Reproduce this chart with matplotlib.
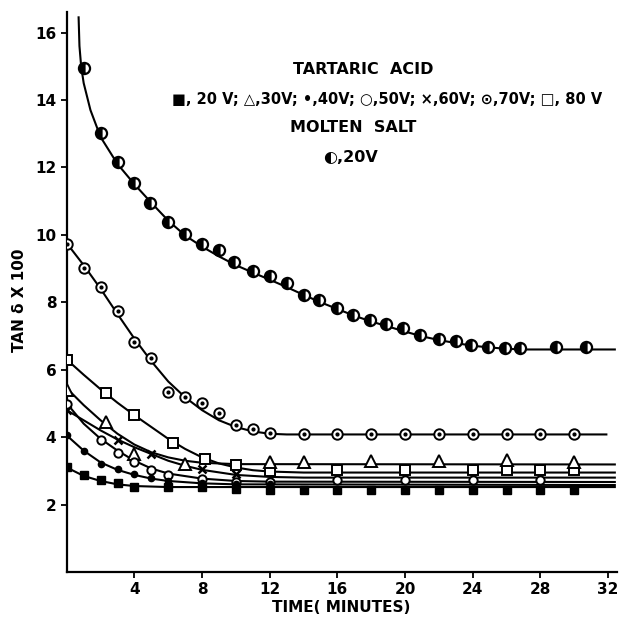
import matplotlib
matplotlib.use("Agg")
import matplotlib.pyplot as plt

# ---- measured points (time in minutes, tan delta x 100) ----
# molten salt, 20 V
t_ms = [1, 2, 3, 4, 4.9, 6, 7, 8, 9, 9.9, 11, 12, 13, 14, 14.9, 16, 16.9, 17.9,
        18.9, 19.9, 20.9, 22, 23, 23.9, 24.9, 25.9, 26.8, 28.9, 30.7]
d_ms = [14.95, 13.02, 12.16, 11.53, 10.94, 10.38, 10.01, 9.72, 9.54, 9.18, 8.93,
        8.78, 8.57, 8.21, 8.08, 7.84, 7.61, 7.47, 7.37, 7.24, 7.02, 6.92, 6.84,
        6.73, 6.66, 6.63, 6.63, 6.66, 6.66]

# tartaric acid
t_20 = [0, 1, 2, 3, 4, 6, 8, 10, 12, 14, 16, 18, 20, 22, 24, 26, 28, 30]
d_20 = [3.1, 2.89, 2.73, 2.63, 2.53, 2.53, 2.51, 2.45, 2.43, 2.42, 2.42, 2.42,
        2.42, 2.42, 2.42, 2.42, 2.42, 2.42]
t_30 = [0, 2.3, 4, 7, 12, 14, 18, 22, 26, 30]
d_30 = [5.4, 4.45, 3.5, 3.2, 3.27, 3.27, 3.3, 3.3, 3.32, 3.27]
t_40 = [0, 1, 2, 3, 4, 5, 6, 8, 10, 12]
d_40 = [4.05, 3.58, 3.2, 3.05, 2.9, 2.78, 2.7, 2.65, 2.62, 2.62]
t_50 = [0, 2, 3, 4, 5, 6, 8, 10, 12, 16, 20, 24, 28]
d_50 = [4.98, 3.91, 3.54, 3.27, 3.02, 2.89, 2.76, 2.68, 2.66, 2.73, 2.73, 2.73, 2.73]
t_60 = [0, 3, 5, 8, 10]
d_60 = [4.8, 3.92, 3.5, 3.05, 2.92]
t_70 = [0, 1, 2, 3, 4, 5, 6, 7, 8, 9, 10, 11, 12, 14, 16, 18, 20, 22, 24, 26, 28, 30]
d_70 = [9.74, 9.03, 8.45, 7.74, 6.82, 6.36, 5.34, 5.19, 5.0, 4.72, 4.36, 4.23,
        4.11, 4.08, 4.08, 4.08, 4.08, 4.08, 4.08, 4.08, 4.08, 4.08]
t_80 = [0, 2.3, 4, 6.3, 8.2, 10, 12, 16, 20, 24, 26, 28, 30]
d_80 = [6.3, 5.31, 4.65, 3.82, 3.34, 3.17, 3.0, 3.02, 3.02, 3.02, 3.02, 3.02, 3.02]

# ---- hand-drawn fitted curves ----
ct_ms = [0.7, 0.75, 0.85, 1, 1.4, 2, 3, 4, 5, 6, 7, 8, 9, 10, 11, 12, 13, 14, 15,
         16, 17, 18, 19, 20, 21, 22, 23, 24, 25, 26, 27, 32.4]
cd_ms = [16.45, 15.6, 15.0, 14.5, 13.7, 12.9, 12.1, 11.5, 10.95, 10.42, 9.98,
         9.65, 9.36, 9.1, 8.88, 8.67, 8.45, 8.22, 8.0, 7.8, 7.6, 7.43, 7.28, 7.13,
         6.99, 6.88, 6.79, 6.71, 6.66, 6.62, 6.6, 6.6]
ct_70 = [0, 1, 2, 3, 4, 5, 6, 7, 8, 9, 10, 11, 12, 13, 31.9]
cd_70 = [9.75, 9.1, 8.4, 7.65, 6.92, 6.25, 5.65, 5.18, 4.8, 4.5, 4.3, 4.17, 4.1,
         4.08, 4.08]
ct_80 = [0, 1, 2, 3, 4, 5, 6, 7, 8, 9, 10, 11, 12, 14, 32.4]
cd_80 = [6.3, 5.85, 5.42, 5.02, 4.65, 4.3, 3.95, 3.65, 3.4, 3.22, 3.1, 3.02,
         2.98, 2.95, 2.95]
ct_30 = [0, 1, 2, 3, 4, 5, 6, 7, 8, 10, 32.4]
cd_30 = [5.45, 4.95, 4.5, 4.1, 3.78, 3.55, 3.4, 3.3, 3.24, 3.2, 3.19]
ct_60 = [0, 1, 2, 3, 4, 5, 6, 7, 8, 10, 12, 14, 32.4]
cd_60 = [4.8, 4.5, 4.2, 3.93, 3.7, 3.5, 3.3, 3.15, 3.03, 2.88, 2.82, 2.8, 2.8]
ct_50 = [0, 1, 2, 3, 4, 5, 6, 8, 10, 12, 32.4]
cd_50 = [5.0, 4.4, 3.95, 3.6, 3.3, 3.07, 2.92, 2.77, 2.7, 2.68, 2.67]
ct_40 = [0, 1, 2, 3, 4, 5, 6, 8, 10, 32.4]
cd_40 = [4.05, 3.6, 3.25, 3.03, 2.88, 2.77, 2.7, 2.63, 2.6, 2.58]
ct_20 = [0, 1, 2, 3, 4, 6, 32.4]
cd_20 = [3.1, 2.85, 2.7, 2.6, 2.55, 2.52, 2.52]

x_ticks = [4, 8, 12, 16, 20, 24, 28, 32]
y_ticks = [2, 4, 6, 8, 10, 12, 14, 16]

plt.rcParams['font.family'] = ['DejaVu Sans']

fig = plt.figure(figsize=(6.24, 6.24), dpi=100)
ax = fig.add_axes([0.107, 0.0833, 0.881, 0.897])

# curves
for ct, cd in [(ct_ms, cd_ms), (ct_70, cd_70), (ct_80, cd_80), (ct_30, cd_30),
               (ct_60, cd_60), (ct_50, cd_50), (ct_40, cd_40), (ct_20, cd_20)]:
    ax.plot(ct, cd, color='black', lw=1.5, zorder=2)

# markers
ax.plot(t_ms, d_ms, 'o', ms=8, mfc='black', mfcalt='white', fillstyle='left',
        mec='black', mew=1.6, zorder=3)
ax.plot(t_70, d_70, 'o', ms=7.5, mfc='white', mec='black', mew=1.4, zorder=3)
ax.plot(t_70, d_70, 'o', ms=2, color='black', zorder=4)
ax.plot(t_80, d_80, 's', ms=7, mfc='white', mec='black', mew=1.4, zorder=3)
ax.plot(t_30, d_30, '^', ms=8, mfc='white', mec='black', mew=1.4, zorder=3)
ax.plot(t_50, d_50, 'o', ms=6, mfc='white', mec='black', mew=1.4, zorder=3)
ax.plot(t_60, d_60, 'x', ms=6, color='black', mew=1.8, zorder=3)
ax.plot(t_40, d_40, 'o', ms=4.5, color='black', zorder=3)
ax.plot(t_20, d_20, 's', ms=6, color='black', zorder=3)

ax.set_xlim(0, 32.5)
ax.set_ylim(0, 16.6)
ax.set_xticks(x_ticks)
ax.set_yticks(y_ticks)
ax.tick_params(direction='out', length=4, width=1.3, labelsize=11)
for lab in ax.get_xticklabels() + ax.get_yticklabels():
    lab.set_fontweight('bold')
for s in ['top', 'right']:
    ax.spines[s].set_visible(False)
for s in ['left', 'bottom']:
    ax.spines[s].set_linewidth(1.6)

fig.text(0.032, 0.519, 'TAN δ X 100', rotation=90, ha='center', va='center',
         fontsize=11, fontweight='bold')
fig.text(0.546, 0.027, 'TIME( MINUTES)', ha='center', va='center',
         fontsize=11, fontweight='bold')

fig.text(0.582, 0.888, 'TARTARIC  ACID', ha='center', va='center', fontsize=11.5,
         fontweight='bold')
fig.text(0.620, 0.840, '■, 20 V; △,30V; •,40V; ○,50V; ×,60V; ⊙,70V; □, 80 V',
         ha='center', va='center', fontsize=10.5, fontweight='bold')
fig.text(0.566, 0.795, 'MOLTEN  SALT', ha='center', va='center', fontsize=11.5,
         fontweight='bold')
fig.text(0.5625, 0.748, '◐,20V', ha='center', va='center', fontsize=11.5,
         fontweight='bold')

fig.savefig('out.png', dpi=100)
